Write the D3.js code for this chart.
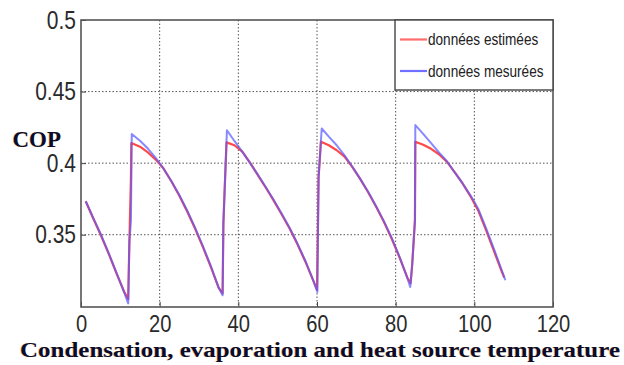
<!DOCTYPE html>
<html>
<head>
<meta charset="utf-8">
<script src="https://cdn.jsdelivr.net/npm/d3@7"></script>
<style>
  html, body { margin: 0; padding: 0; background: #fff; }
  svg { display: block; }
</style>
</head>
<body>
<div id="chart"></div>
<script>
// ---- Data ----
const xTicks = [0, 20, 40, 60, 80, 100, 120];
const yTicks = [0.35, 0.4, 0.45, 0.5];
const yTickLabels = ["0.35", "0.4", "0.45", "0.5"];
const seriesNames = ["données estimées", "données mesurées"];

const measuredX = [1.2, 3, 5, 7, 9, 11, 12.0, 12.3, 12.7, 12.9,
  15, 17, 19, 21, 23, 25, 27, 29, 31, 33, 35, 36.0, 36.2, 36.6, 37.1,
  39, 41, 43, 45, 47, 49, 51, 53, 55, 57, 59, 60.1, 60.4, 61.2,
  63, 65, 67, 69, 71, 73, 75, 77, 79, 81, 83, 83.7, 84.2, 84.9, 85.0,
  87, 89, 91, 93, 95, 97, 99, 100, 101, 103, 105, 107, 107.9];
const measuredY = [0.3734, 0.3625, 0.3505, 0.3375, 0.3235, 0.3095, 0.3020, 0.3450, 0.3600, 0.4203,
  0.4157, 0.4102, 0.4037, 0.3961, 0.3874, 0.3777, 0.3669, 0.3550, 0.3421, 0.3282, 0.3131, 0.3077, 0.3580, 0.3870, 0.4230,
  0.4155, 0.4080, 0.4000, 0.3918, 0.3832, 0.3742, 0.3648, 0.3550, 0.3440, 0.3320, 0.3185, 0.3100, 0.3900, 0.4242,
  0.4185, 0.4125, 0.4055, 0.3975, 0.3890, 0.3800, 0.3700, 0.3595, 0.3478, 0.3345, 0.3195, 0.3135, 0.3290, 0.3600, 0.4266,
  0.4205, 0.4140, 0.4075, 0.4015, 0.3935, 0.3860, 0.3775, 0.3730, 0.3680, 0.3545, 0.3400, 0.3250, 0.3182];

const estimatedX = [1.2, 3, 5, 7, 9, 11, 12.0, 12.3, 12.7, 12.8,
  15, 17, 19, 21, 23, 25, 27, 29, 31, 33, 35, 36.0, 36.2, 36.6, 37.0,
  39, 41, 43, 45, 47, 49, 51, 53, 55, 57, 59, 60.0, 60.4, 61.0,
  63, 65, 67, 69, 71, 73, 75, 77, 79, 81, 83, 83.8, 84.2, 84.9, 85.0,
  87, 89, 91, 93, 95, 97, 99, 101, 103, 105, 107, 107.6];
const estimatedY = [0.3734, 0.3620, 0.3500, 0.3370, 0.3232, 0.3100, 0.3050, 0.3450, 0.3900, 0.4140,
  0.4115, 0.4075, 0.4025, 0.3962, 0.3872, 0.3772, 0.3662, 0.3543, 0.3413, 0.3275, 0.3128, 0.3090, 0.3580, 0.3870, 0.4145,
  0.4125, 0.4080, 0.4002, 0.3915, 0.3828, 0.3738, 0.3643, 0.3545, 0.3435, 0.3315, 0.3183, 0.3115, 0.3900, 0.4150,
  0.4125, 0.4090, 0.4045, 0.3972, 0.3888, 0.3797, 0.3697, 0.3590, 0.3472, 0.3340, 0.3198, 0.3160, 0.3290, 0.3600, 0.4149,
  0.4128, 0.4100, 0.4062, 0.4010, 0.3937, 0.3858, 0.3770, 0.3668, 0.3530, 0.3385, 0.3240, 0.3200];

// ---- Layout ----
const W = 624, H = 365;
const plotL = 81, plotR = 553, plotT = 20, plotB = 307;
const COMPRESS = 0.84;

const svg = d3.select("#chart").append("svg")
  .attr("width", W).attr("height", H)
  .style("font-family", "'Liberation Sans', Arial, sans-serif");

const x = d3.scaleLinear().domain([0, 120]).range([plotL, plotR]);
const y = d3.scaleLinear().domain([0.2995, 0.5]).range([plotB, plotT]);

// Grid lines (dotted)
const grid = svg.append("g").attr("class", "grid");
grid.selectAll("line.vx").data(xTicks.filter(d => d > 0 && d < 120)).enter().append("line")
  .attr("x1", d => x(d)).attr("x2", d => x(d))
  .attr("y1", plotT).attr("y2", plotB)
  .attr("stroke", "#555").attr("stroke-width", 1).attr("stroke-dasharray", "1.5,2");
grid.selectAll("line.hy").data(yTicks.filter(d => d < 0.5)).enter().append("line")
  .attr("x1", plotL).attr("x2", plotR)
  .attr("y1", d => y(d)).attr("y2", d => y(d))
  .attr("stroke", "#555").attr("stroke-width", 1).attr("stroke-dasharray", "1.5,2");

// Axes
const xAxis = svg.append("g").attr("transform", `translate(0,${plotB})`)
  .call(d3.axisBottom(x).tickValues(xTicks).tickFormat(d3.format("d")).tickSize(-5).tickPadding(8));
const yAxis = svg.append("g").attr("transform", `translate(${plotL},0)`)
  .call(d3.axisLeft(y).tickValues(yTicks).tickFormat((d, i) => yTickLabels[i]).tickSize(-5).tickPadding(5));
[xAxis, yAxis].forEach(a => {
  a.select(".domain").remove();
  a.selectAll(".tick line").attr("stroke", "#444").attr("stroke-width", 1);
  a.selectAll(".tick text")
    .attr("fill", "#2a2a2a")
    .style("font-size", "25px")
    .attr("transform", `scale(${COMPRESS},1)`);
});
xAxis.selectAll(".tick text").style("font-size", "24px");
yAxis.selectAll(".tick text").attr("x", -5 / COMPRESS);

// Frame
svg.append("rect")
  .attr("x", plotL).attr("y", plotT)
  .attr("width", plotR - plotL).attr("height", plotB - plotT)
  .attr("fill", "none").attr("stroke", "#555").attr("stroke-width", 1.6);

// Lines
const line = d3.line().x(d => x(d[0])).y(d => y(d[1]));
const estPts = estimatedX.map((v, i) => [v, estimatedY[i]]);
const mesPts = measuredX.map((v, i) => [v, measuredY[i]]);

svg.append("path").datum(estPts)
  .attr("d", line).attr("fill", "none")
  .attr("stroke", "#ff4a4a").attr("stroke-width", 2.2)
  .attr("stroke-linejoin", "round");
svg.append("path").datum(mesPts)
  .attr("d", line).attr("fill", "none")
  .attr("stroke", "#5a5aff").attr("stroke-opacity", 0.72).attr("stroke-width", 2)
  .attr("stroke-linejoin", "round");

// Legend
const lg = svg.append("g");
lg.append("rect")
  .attr("x", 395).attr("y", plotT).attr("width", plotR - 395).attr("height", 70)
  .attr("fill", "#fff").attr("stroke", "#444").attr("stroke-width", 1.4);
const legendColors = ["#ff6a6a", "#7070ff"];
seriesNames.forEach((name, i) => {
  const ly = 39.5 + i * 31.5;
  lg.append("line").attr("x1", 400).attr("x2", 427).attr("y1", ly).attr("y2", ly)
    .attr("stroke", legendColors[i]).attr("stroke-width", 2.2);
  lg.append("text")
    .attr("transform", `translate(428,${ly + 5.5}) scale(0.85,1)`)
    .attr("fill", "#222").style("font-size", "16px")
    .text(name);
});

// Axis titles
svg.append("text")
  .attr("x", 12.5).attr("y", 146.5)
  .style("font-family", "'Liberation Serif', 'Times New Roman', serif")
  .style("font-weight", "bold").style("font-size", "23px")
  .attr("fill", "#0b0b2a")
  .style("text-shadow", "-0.6px 0 0 rgba(230,140,30,0.55)")
  .text("COP");

svg.append("text")
  .attr("x", 20).attr("y", 357)
  .attr("textLength", 600).attr("lengthAdjust", "spacingAndGlyphs")
  .style("font-family", "'Liberation Serif', 'Times New Roman', serif")
  .style("font-weight", "bold").style("font-size", "22px")
  .attr("fill", "#0b0b2a")
  .style("text-shadow", "-0.6px 0 0 rgba(230,140,30,0.55)")
  .text("Condensation, evaporation and heat source temperature");
</script>
</body>
</html>
